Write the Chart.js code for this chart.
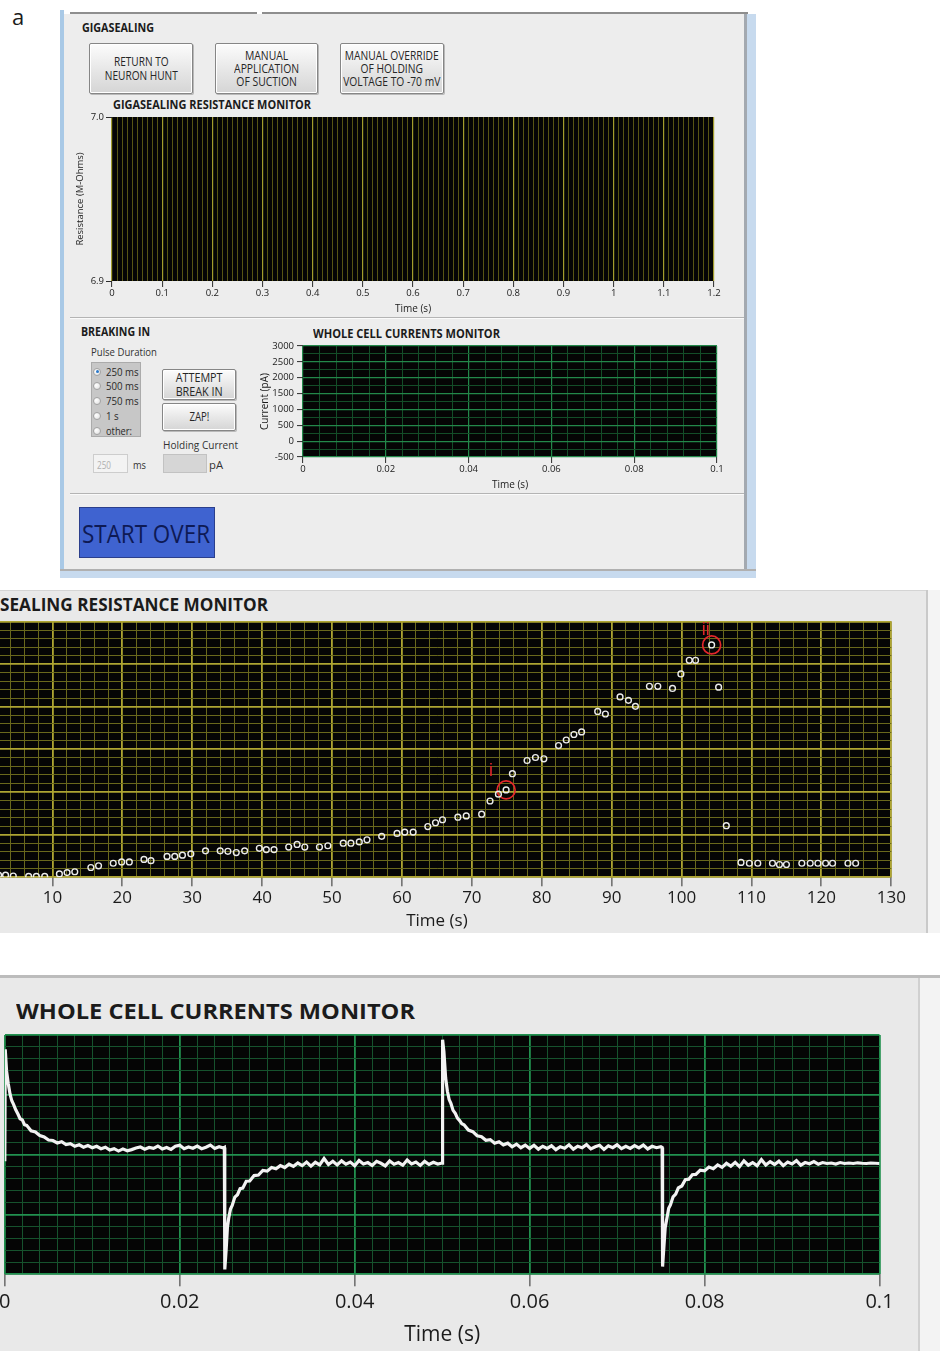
<!DOCTYPE html>
<html>
<head>
<meta charset="utf-8">
<title>Gigasealing and whole cell monitors</title>
<script src="https://cdn.jsdelivr.net/npm/chart.js@4.4.1/dist/chart.umd.min.js"></script>
<style>
  html, body { margin: 0; padding: 0; }
  body { width: 940px; height: 1351px; position: relative; overflow: hidden; background: #fff;
         font-family: "Open Sans", sans-serif; color: #1b1b1b; }
  .box { position: absolute; box-sizing: border-box; }
  .txt { position: absolute; white-space: nowrap; line-height: 1; display: inline-block; transform-origin: left center; }
  .bold { font-weight: 700; }
  canvas { position: absolute; }
  .btn { position: absolute; box-sizing: border-box; border: 1px solid #868686; border-radius: 2px;
         background: linear-gradient(#fcfcfc, #e8e8e8 50%, #d5d5d5);
         box-shadow: inset 0 0 0 1px #fff, 1px 1px 0 #b9b9b9;
         display: flex; align-items: center; justify-content: center; }
  .btn span { display: inline-block; text-align: center; font-size: 12px; line-height: 13.3px; color: #262626;
              white-space: nowrap; transform-origin: center center; }
  .radio { position: absolute; width: 8px; height: 8px; border-radius: 50%; box-sizing: border-box;
           border: 1px solid #a2a2a2; background: radial-gradient(circle at 35% 35%, #ffffff, #dedede); }
  .radio.on::after { content: ""; position: absolute; left: 1.5px; top: 1.5px; width: 3px; height: 3px;
                     border-radius: 50%; background: #2a78c9; }
</style>
</head>
<body>

<!-- panel a : LabVIEW front panel -->
<div class="txt" style="left:12px; top:5px; font-size:22px;">a</div>
<div class="box" style="left:60px; top:10px; width:4px; height:568px; background:#a9c9e6;"></div>
<div class="box" style="left:64px; top:14px; width:684px; height:556px; background:#ededed;"></div>
<div class="box" style="left:70px; top:12px; width:187px; height:2px; background:#8e8e8e;"></div>
<div class="box" style="left:262px; top:12px; width:486px; height:2px; background:#8e8e8e;"></div>
<div class="box" style="left:744px; top:14px; width:12px; height:564px; background:#c7daee; border-left:3px solid #a3a9b0;"></div>
<div class="box" style="left:60px; top:569px; width:696px; height:9px; background:#c7daee; border-top:2px solid #b0b0b0;"></div>
<div class="box" style="left:70px; top:317px; width:674px; height:2px; border-top:1px solid #b4b4b4; border-bottom:1px solid #fafafa;"></div>
<div class="box" style="left:70px; top:493px; width:674px; height:2px; border-top:1px solid #b4b4b4; border-bottom:1px solid #fafafa;"></div>

<div class="txt bold" style="left:81.7px; top:22.3px; font-size:12px;" data-w="72">GIGASEALING</div>
<div class="btn" style="left:89px; top:43px; width:104px; height:51px;"><span data-w="73">RETURN TO<br>NEURON HUNT</span></div>
<div class="btn" style="left:215px; top:43px; width:103px; height:51px;"><span data-w="65">MANUAL<br>APPLICATION<br>OF SUCTION</span></div>
<div class="btn" style="left:340px; top:43px; width:104px; height:51px;"><span data-w="97">MANUAL OVERRIDE<br>OF HOLDING<br>VOLTAGE TO -70 mV</span></div>
<div class="txt bold" style="left:112.7px; top:99.1px; font-size:12px;" data-w="198">GIGASEALING RESISTANCE MONITOR</div>

<div class="txt bold" style="left:80.7px; top:325.6px; font-size:12px;" data-w="69">BREAKING IN</div>
<div class="txt bold" style="left:313px; top:328.3px; font-size:12px;" data-w="187">WHOLE CELL CURRENTS MONITOR</div>
<div class="txt" style="left:90.7px; top:345.7px; font-size:11px; color:#333;" data-w="66">Pulse Duration</div>
<div class="box" style="left:90.7px; top:362px; width:50px; height:75px; background:#c7c7c7; border:1px solid #ababab;"></div>
<div class="btn" style="left:162px; top:369px; width:74px; height:31px;"><span data-w="47" style="line-height:14px;">ATTEMPT<br>BREAK IN</span></div>
<div class="btn" style="left:162px; top:403px; width:74px; height:28px;"><span data-w="20">ZAP!</span></div>
<div class="txt" style="left:163px; top:439.2px; font-size:11px; color:#333;" data-w="75">Holding Current</div>
<div class="box" style="left:93px; top:454px; width:35px; height:19px; background:#f3f3f3; border:1px solid #cdcdcd;"></div>
<div class="txt" style="left:97px; top:459.5px; font-size:10px; color:#b0b0b0;" data-w="14">250</div>
<div class="txt" style="left:133px; top:459.2px; font-size:11px; color:#333;" data-w="13">ms</div>
<div class="box" style="left:163px; top:454px; width:44px; height:19px; background:#d6d6d6; border:1px solid #c2c2c2;"></div>
<div class="txt" style="left:209px; top:459.2px; font-size:11px; color:#333;" data-w="14">pA</div>
<div class="box" style="left:79px; top:507px; width:136px; height:51px; background:#3f63d0; border:1px solid #2b3f8c;"></div>
<div class="txt" style="left:81.7px; top:520.8px; font-size:25px; color:#0e1a55;" data-w="128">START OVER</div>

<canvas id="resistTop"></canvas>
<canvas id="currentTop"></canvas>

<!-- enlarged gigasealing resistance monitor -->
<div class="box" style="left:0; top:590px; width:926px; height:343px; background:#e9e9e9; border-top:1px solid #d4d4d4;"></div>
<div class="box" style="left:926px; top:590px; width:14px; height:343px; background:#f4f4f4; border-left:2px solid #c9c9c9;"></div>
<div class="txt bold" style="left:0; top:595.5px; font-size:17px;" data-w="268">SEALING RESISTANCE MONITOR</div>
<canvas id="sealChart"></canvas>

<!-- enlarged whole cell currents monitor -->
<div class="box" style="left:0; top:975px; width:940px; height:3px; background:#bcbcbc;"></div>
<div class="box" style="left:0; top:978px; width:918px; height:373px; background:#e9e9e9;"></div>
<div class="box" style="left:918px; top:978px; width:22px; height:373px; background:#f3f3f3; border-left:2px solid #d0d0d0;"></div>
<div class="txt bold" style="left:16px; top:999.3px; font-size:22px;" data-w="399">WHOLE CELL CURRENTS MONITOR</div>
<canvas id="sweepChart"></canvas>

<script>
// ---------------- DATA ----------------
// enlarged gigasealing resistance monitor (y labels are cropped in the source, values in grid divisions)
const sealTime = [
  2.3, 3.3, 4.4, 6.6, 7.7, 8.9, 11.0, 12.1, 13.2, 15.5,
  16.6, 18.7, 19.9, 21.0, 23.1, 24.1, 26.4, 27.5, 28.6, 29.8,
  31.9, 34.0, 35.1, 36.3, 37.5, 39.6, 40.6, 41.7, 43.8, 45.0,
  46.1, 48.2, 49.4, 51.6, 52.7, 53.9, 55.0, 57.1, 59.3, 60.4,
  61.6, 63.7, 64.8, 65.8, 68.0, 69.2, 71.4, 72.6, 73.8, 74.9,
  75.8, 77.9, 79.1, 80.3, 82.4, 83.5, 84.6, 85.7, 88.0, 89.1,
  91.2, 92.4, 93.4, 95.4, 96.6, 98.7, 99.9, 101.1, 102.0, 104.3,
  105.3, 106.4, 108.5, 109.7, 110.9, 113.0, 114.0, 115.0, 117.2, 118.4,
  119.5, 120.6, 121.6, 123.8, 124.9
];
const sealResistance = [
  0.05, 0.05, 0.03, 0.02, 0.02, 0.02, 0.08, 0.11, 0.13, 0.23,
  0.27, 0.33, 0.36, 0.36, 0.42, 0.39, 0.49, 0.49, 0.52, 0.55,
  0.62, 0.62, 0.61, 0.58, 0.62, 0.68, 0.65, 0.65, 0.71, 0.77,
  0.71, 0.71, 0.74, 0.80, 0.80, 0.83, 0.88, 0.96, 1.03, 1.06,
  1.06, 1.19, 1.28, 1.35, 1.41, 1.44, 1.48, 1.79, 1.95, 2.05,
  2.43, 2.74, 2.81, 2.78, 3.09, 3.22, 3.35, 3.41, 3.89, 3.83,
  4.23, 4.15, 4.01, 4.48, 4.48, 4.43, 4.77, 5.09, 5.09, 5.45,
  4.46, 1.21, 0.35, 0.33, 0.33, 0.33, 0.30, 0.30, 0.33, 0.33,
  0.33, 0.33, 0.33, 0.33, 0.33
];
const markedTime = [74.9, 104.3];
const markedResistance = [2.05, 5.45];
const markedLabels = ["i", "ii"];
const sealTickLabels = [10, 20, 30, 40, 50, 60, 70, 80, 90, 100, 110, 120, 130];

// enlarged whole cell currents monitor (time in ms, current in pA)
const sweepTimeMs = [
  0, 0.05, 0.2, 0.4, 0.6, 0.8, 1, 1.25, 1.5, 1.75,
  2, 2.25, 2.5, 3, 3.5, 4, 4.5, 5, 5.5, 6,
  6.5, 7, 7.5, 8, 8.5, 9, 9.5, 10, 10.5, 11,
  11.5, 12, 12.5, 13, 13.5, 14, 14.5, 15, 15.5, 16,
  16.5, 17, 17.5, 18, 18.5, 19, 19.5, 20, 20.5, 21,
  21.5, 22, 22.5, 23, 23.5, 24, 24.5, 25, 25.1, 25.15,
  25.3, 25.45, 25.6, 25.8, 26, 26.3, 26.6, 26.9, 27.2, 27.6,
  28, 28.5, 29, 29.5, 30, 30.5, 31, 31.5, 32, 32.5,
  33, 33.5, 34, 34.5, 35, 35.5, 36, 36.5, 37, 37.5,
  38, 38.5, 39, 39.5, 40, 40.5, 41, 41.5, 42, 42.5,
  43, 43.5, 44, 44.5, 45, 45.5, 46, 46.5, 47, 47.5,
  48, 48.5, 49, 49.5, 50, 50.05,
  50.2, 50.4, 50.6, 50.8, 51, 51.25, 51.5, 51.75, 52, 52.25,
  52.5, 53, 53.5, 54, 54.5, 55, 55.5, 56, 56.5, 57,
  57.5, 58, 58.5, 59, 59.5, 60, 60.5, 61, 61.5, 62,
  62.5, 63, 63.5, 64, 64.5, 65, 65.5, 66, 66.5, 67,
  67.5, 68, 68.5, 69, 69.5, 70, 70.5, 71, 71.5, 72,
  72.5, 73, 73.5, 74, 74.5, 75, 75.15, 75.2,
  75.35, 75.5, 75.7, 75.9, 76.1, 76.4, 76.7, 77, 77.4, 77.8,
  78.2, 78.6, 79, 79.5, 80, 80.5, 81, 81.5, 82, 82.5,
  83, 83.5, 84, 84.5, 85, 85.5, 86, 86.5, 87, 87.5,
  88, 88.5, 89, 89.5, 90, 90.5, 91, 91.5, 92, 92.5,
  93, 93.5, 94, 94.5, 95, 95.5, 96, 96.5, 97, 97.5,
  98, 98.5, 99, 99.5, 100
];
const sweepCurrent = [
  -55, 880, 700, 590, 505, 450, 420, 375, 340, 300,
  290, 250, 245, 200, 190, 160, 148, 122, 118, 98,
  108, 84, 92, 70, 82, 62, 76, 58, 70, 50,
  62, 38, 50, 30, 48, 32, 42, 55, 64, 46,
  60, 52, 72, 48, 60, 44, 70, 78, 50, 64,
  54, 72, 50, 62, 80, 52, 66, 56, 60, -960,
  -800, -610, -530, -455, -425, -355, -335, -285, -280, -222,
  -220, -175, -170, -132, -138, -108, -118, -92, -108, -80,
  -98, -70, -92, -62, -96, -64, -86, -32, -82, -55,
  -86, -52, -80, -62, -92, -48, -78, -66, -90, -56,
  -72, -94, -52, -80, -66, -88, -45, -78, -62, -90,
  -56, -82, -64, -78, -70, 960,
  860, 640, 530, 460, 428, 370, 345, 305, 285, 258,
  250, 205, 192, 158, 150, 120, 126, 96, 108, 82,
  96, 66, 88, 58, 80, 52, 78, 46, 70, 52,
  74, 42, 66, 54, 82, 46, 70, 58, 84, 48,
  66, 78, 44, 74, 58, 82, 50, 70, 52, 76,
  56, 80, 48, 70, 58, 66, 60, -935,
  -770, -610, -530, -448, -420, -352, -330, -278, -262, -210,
  -205, -168, -165, -130, -136, -104, -118, -86, -106, -72,
  -96, -64, -100, -52, -88, -66, -92, -42, -86, -58,
  -82, -54, -92, -62, -78, -50, -88, -66, -76, -58,
  -80, -66, -74, -70, -78, -66, -74, -70, -74, -68,
  -72, -74, -70, -72, -74
];
const sweepTickLabels = [0, 0.02, 0.04, 0.06, 0.08, 0.1];

// small monitors on the front panel (no data yet, only axes)
const resistTickLabels = [0, 0.1, 0.2, 0.3, 0.4, 0.5, 0.6, 0.7, 0.8, 0.9, 1, 1.1, 1.2];
const resistYLabels = [6.9, 7.0];
const currentTickLabels = [0, 0.02, 0.04, 0.06, 0.08, 0.1];
const currentYLabels = [-500, 0, 500, 1000, 1500, 2000, 2500, 3000];
const pulseOptions = ["250 ms", "500 ms", "750 ms", "1 s", "other:"];

// ---------------- HELPERS ----------------
Chart.defaults.font.family = '"Open Sans", sans-serif';
Chart.defaults.color = "#1b1b1b";

function near(v, list) { return list.some((t) => Math.abs(t - v) < 1e-7); }
function onStep(v, step) { const r = v / step; return Math.abs(r - Math.round(r)) < 1e-6; }
function fmtNum(v) { return String(Math.round(v * 1000) / 1000); }

// black plot area like LabVIEW graphs
const plotBackground = {
  id: "plotBackground",
  beforeDraw(chart) {
    const { ctx, chartArea: a } = chart;
    ctx.save();
    ctx.fillStyle = "#050505";
    ctx.fillRect(a.left, a.top, a.right - a.left, a.bottom - a.top);
    ctx.restore();
  },
};

// red "i" / "ii" annotations next to the circled samples
const markerLabels = {
  id: "markerLabels",
  afterDatasetsDraw(chart, args, opts) {
    if (!opts.labels) return;
    const meta = chart.getDatasetMeta(opts.dataset);
    const { ctx } = chart;
    ctx.save();
    ctx.fillStyle = opts.color;
    ctx.font = opts.font;
    ctx.textAlign = "center";
    ctx.textBaseline = "alphabetic";
    meta.data.forEach((pt, i) => {
      ctx.fillText(opts.labels[i], pt.x + opts.offsets[i][0], pt.y + opts.offsets[i][1]);
    });
    ctx.restore();
  },
};

function lvAxis(o) {
  const isMajor = (c) => c.tick && onStep(c.tick.value, o.major);
  const hasLabel = (v) => o.labels && near(v, o.labels);
  return {
    type: "linear",
    position: o.position,
    min: o.min,
    max: o.max,
    ticks: {
      stepSize: o.step,
      autoSkip: false,
      maxRotation: 0,
      minRotation: 0,
      display: !!o.labels,
      padding: o.tickPad || 2,
      font: { size: o.fontSize || 10 },
      color: "#1b1b1b",
      callback: (v) => (hasLabel(v) ? (o.fmt ? o.fmt(v) : v) : ""),
    },
    grid: {
      display: true,
      drawOnChartArea: o.grid !== false,
      color: (c) => (isMajor(c) ? o.majorColor : o.minorColor),
      lineWidth: (c) => (isMajor(c) ? o.majorWidth : o.minorWidth),
      drawTicks: !!o.tickLen,
      tickLength: o.tickLen || 0,
      tickWidth: 1,
      tickColor: (c) => (c.tick && hasLabel(c.tick.value) ? "#2b2b2b" : "rgba(0,0,0,0)"),
    },
    border: { display: false },
    title: o.title
      ? { display: true, text: o.title, color: "#1b1b1b", font: { size: o.titleSize }, padding: { top: o.titlePad || 0, bottom: 0 } }
      : { display: false },
    afterFit: (s) => {
      if (o.position === "bottom") s.height = o.fit;
      else s.width = o.fit;
      s.paddingLeft = 0;
      s.paddingRight = 0;
      s.paddingTop = 0;
      s.paddingBottom = 0;
    },
  };
}

// place the canvas and compute padding so the plot area lands on given pixels
function setupCanvas(id, box, area, yW, xH) {
  const c = document.getElementById(id);
  c.width = box.width;
  c.height = box.height;
  c.style.left = box.left + "px";
  c.style.top = box.top + "px";
  return {
    canvas: c,
    padding: {
      left: area.left - box.left - yW,
      top: area.top - box.top,
      right: box.left + box.width - area.right,
      bottom: box.top + box.height - area.bottom - xH,
    },
  };
}

function baseOptions(padding, scales, extraPlugins) {
  return {
    responsive: false,
    animation: false,
    devicePixelRatio: 1,
    layout: { padding },
    events: [],
    plugins: Object.assign({ legend: { display: false }, tooltip: { enabled: false } }, extraPlugins || {}),
    scales,
  };
}

// ---------------- FRONT PANEL WIDGETS ----------------
const radioCenters = [371.7, 386, 401, 415.7, 430.7];
const radioWidths = [32.6, 32.6, 32.6, 12.7, 26];
pulseOptions.forEach((label, i) => {
  const dot = document.createElement("div");
  dot.className = "radio" + (i === 0 ? " on" : "");
  dot.style.left = "93.3px";
  dot.style.top = radioCenters[i] - 4 + "px";
  document.body.appendChild(dot);
  const t = document.createElement("div");
  t.className = "txt";
  t.textContent = label;
  t.style.left = "105.7px";
  t.style.top = radioCenters[i] - 5.8 + "px";
  t.style.fontSize = "11px";
  t.style.color = "#2a2a2a";
  t.dataset.w = radioWidths[i];
  document.body.appendChild(t);
});

// squeeze the text to the widths measured on the screenshot
document.querySelectorAll("[data-w]").forEach((el) => {
  const w = el.getBoundingClientRect().width;
  if (w > 0) el.style.transform = "scaleX(" + el.dataset.w / w + ")";
});

// ---------------- CHARTS ----------------
function initResistTop() {
  const { canvas, padding } = setupCanvas("resistTop",
    { left: 70, top: 110, width: 670, height: 210 },
    { left: 112, top: 117, right: 714, bottom: 281 }, 42, 34);
  new Chart(canvas, {
    type: "line",
    data: { datasets: [] },
    options: baseOptions(padding, {
      x: lvAxis({ position: "bottom", min: 0, max: 1.2, step: 0.01, major: 0.1,
        majorColor: "#a29c2c", minorColor: "#575514", majorWidth: 1.2, minorWidth: 1,
        labels: resistTickLabels, fmt: fmtNum, fontSize: 9.5, tickLen: 6, tickPad: 1,
        title: "Time (s)", titleSize: 10, fit: 34 }),
      y: lvAxis({ position: "left", min: 6.9, max: 7.0, step: 0.1, major: 0.1, grid: false,
        majorColor: "#a29c2c", minorColor: "#575514", majorWidth: 1, minorWidth: 1,
        labels: resistYLabels, fmt: (v) => v.toFixed(1), fontSize: 9.5, tickLen: 6, tickPad: 2,
        title: "Resistance (M-Ohms)", titleSize: 9.5, titlePad: 5, fit: 42 }),
    }),
    plugins: [plotBackground],
  });
}

function initCurrentTop() {
  const { canvas, padding } = setupCanvas("currentTop",
    { left: 255, top: 340, width: 480, height: 155 },
    { left: 303, top: 346, right: 717, bottom: 457 }, 48, 34);
  new Chart(canvas, {
    type: "line",
    data: { datasets: [] },
    options: baseOptions(padding, {
      x: lvAxis({ position: "bottom", min: 0, max: 0.1, step: 0.004, major: 0.02,
        majorColor: "#23884a", minorColor: "#134d28", majorWidth: 1.2, minorWidth: 1,
        labels: currentTickLabels, fmt: fmtNum, fontSize: 9.5, tickLen: 6, tickPad: 1,
        title: "Time (s)", titleSize: 10, fit: 34 }),
      y: lvAxis({ position: "left", min: -500, max: 3000, step: 250, major: 500,
        majorColor: "#23884a", minorColor: "#134d28", majorWidth: 1.2, minorWidth: 1,
        labels: currentYLabels, fontSize: 9.5, tickLen: 6, tickPad: 3,
        title: "Current (pA)", titleSize: 10, titlePad: 4, fit: 48 }),
    }),
    plugins: [plotBackground],
  });
}

function initSealChart() {
  const { canvas, padding } = setupCanvas("sealChart",
    { left: -30, top: 610, width: 950, height: 330 },
    { left: -17.5, top: 621.5, right: 891.3, bottom: 877.3 }, 0, 53.9);
  new Chart(canvas, {
    type: "scatter",
    data: {
      datasets: [
        {
          data: sealTime.map((t, i) => ({ x: t, y: sealResistance[i] })),
          pointRadius: 2.9,
          pointBorderWidth: 1.4,
          pointBorderColor: "#ececec",
          pointBackgroundColor: "rgba(0,0,0,0)",
        },
        {
          data: markedTime.map((t, i) => ({ x: t, y: markedResistance[i] })),
          pointRadius: 9,
          pointBorderWidth: 1.7,
          pointBorderColor: "#e3262b",
          pointBackgroundColor: "rgba(0,0,0,0)",
        },
      ],
    },
    options: baseOptions(padding, {
      x: lvAxis({ position: "bottom", min: 0, max: 130, step: 2, major: 10,
        majorColor: "#aea532", minorColor: "#69681c", majorWidth: 1.8, minorWidth: 1,
        labels: sealTickLabels, fontSize: 17, tickLen: 9, tickPad: 2,
        title: "Time (s)", titleSize: 17, fit: 53.9 }),
      y: lvAxis({ position: "left", min: 0, max: 6, step: 0.2, major: 1,
        majorColor: "#aea532", minorColor: "#69681c", majorWidth: 1.8, minorWidth: 1, fit: 0 }),
    }, {
      markerLabels: { dataset: 1, labels: markedLabels, offsets: [[-15, -14], [-6, -10]],
        color: "#e3262b", font: "18px sans-serif" },
    }),
    plugins: [plotBackground, markerLabels],
  });
}

function initSweepChart() {
  const { canvas, padding } = setupCanvas("sweepChart",
    { left: -10, top: 1030, width: 930, height: 321 },
    { left: 4.8, top: 1035, right: 879.5, bottom: 1274.3 }, 0, 73);
  new Chart(canvas, {
    type: "line",
    data: {
      datasets: [
        {
          data: sweepTimeMs.map((t, i) => ({ x: t / 1000, y: sweepCurrent[i] })),
          borderColor: "#f2f2f2",
          borderWidth: 3.2,
          borderJoinStyle: "miter",
          pointRadius: 0,
          tension: 0,
          fill: false,
        },
      ],
    },
    options: baseOptions(padding, {
      x: lvAxis({ position: "bottom", min: 0, max: 0.1, step: 0.002, major: 0.02,
        majorColor: "#21914f", minorColor: "#16522d", majorWidth: 1.8, minorWidth: 1,
        labels: sweepTickLabels, fmt: fmtNum, fontSize: 20, tickLen: 12, tickPad: 4,
        title: "Time (s)", titleSize: 21, fit: 73 }),
      y: lvAxis({ position: "left", min: -1000, max: 1000, step: 100, major: 500,
        majorColor: "#21914f", minorColor: "#16522d", majorWidth: 1.8, minorWidth: 1, fit: 0 }),
    }),
    plugins: [plotBackground],
  });
}

initResistTop();
initCurrentTop();
initSealChart();
initSweepChart();
</script>
</body>
</html>
